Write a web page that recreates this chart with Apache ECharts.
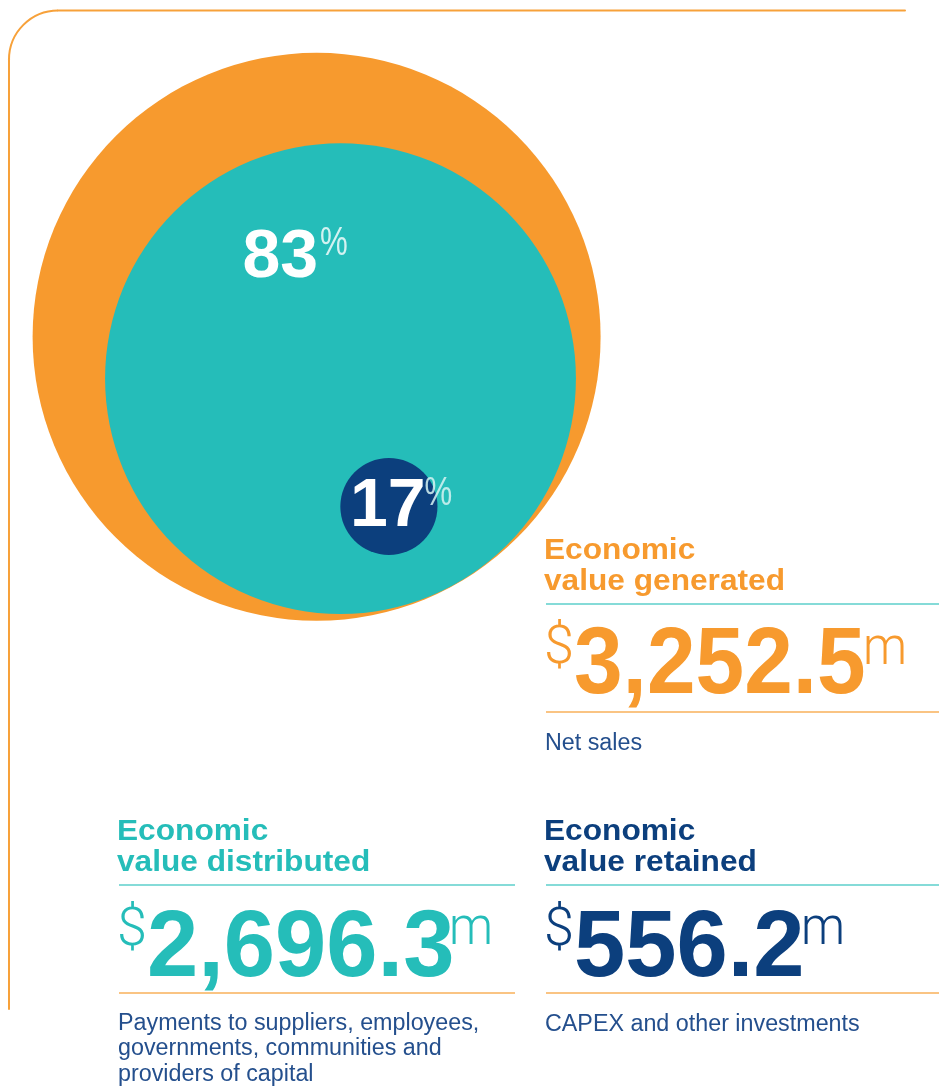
<!DOCTYPE html>
<html>
<head>
<meta charset="utf-8">
<title>Economic value</title>
<script src="https://cdn.jsdelivr.net/npm/echarts@6/dist/echarts.min.js"></script>
<style>
  html, body { margin: 0; padding: 0; background: #fff; }
  #chart { width: 939px; height: 1088px; }
</style>
</head>
<body>
<div id="chart"></div>
<script>
// data ($ million)
var categories = ['Economic value generated', 'Economic value distributed', 'Economic value retained'];
var values = [3252.5, 2696.3, 556.2];
var valueLabels = ['3,252.5', '2,696.3', '556.2'];
var sharePct = [null, 83, 17];
var headLines = [['Economic', 'value generated'], ['Economic', 'value distributed'], ['Economic', 'value retained']];
var descLines = [['Net sales'], ['Payments to suppliers, employees,', 'governments, communities and', 'providers of capital'], ['CAPEX and other investments']];

// layout / style
var colors = ['#f79a2e', '#25bdb9', '#0c3f7d'];
var descColor = '#244f8d';
var bubbleCenters = [[316.6, 336.8], [340.5, 378.6], [388.9, 506.5]];
var pxPerMillion = 568 / 3252.5; // bubble diameter scale

var BOLD = 'bold {s}px "Liberation Sans", Arial, sans-serif';
var REG = 'normal {s}px "Liberation Sans", Arial, sans-serif';
var LIGHT = '300 {s}px Roboto, "Liberation Sans", sans-serif';

function font(tpl, s) { return tpl.replace('{s}', s); }

// y is the vertical middle of the text line
function txt(x, y, str, tpl, size, color, sx) {
  return {
    type: 'text', x: x, y: y, scaleX: sx || 1, z: 100,
    style: {
      text: str, fill: color, font: font(tpl, size),
      align: 'left', verticalAlign: 'middle'
    }
  };
}
function hline(x1, x2, y, color) {
  return { type: 'line', z: 50, shape: { x1: x1, y1: y, x2: x2, y2: y }, style: { stroke: color, lineWidth: 1.3 } };
}

// text blocks
var blocks = [
  { x: 546, base: 561, numScale: 0.93, numSize: 94, lineEnd: 939, dollarY: 649, mX: 863, numBase: 700, mBase: 669, descBase: 752 },
  { x: 119, base: 842, numScale: 0.97, numSize: 95, lineEnd: 515, dollarY: 931, mX: 449, numBase: 983, mBase: 949, descBase: 1031.5 },
  { x: 546, base: 842, numScale: 0.97, numSize: 95, lineEnd: 939, dollarY: 931, mX: 801, numBase: 983, mBase: 949, descBase: 1033 }
];

var frameStyle = { stroke: '#f7a13a', lineWidth: 2, lineCap: 'round' };
var graphics = [
  { type: 'line', z: 10, shape: { x1: 905, y1: 10.5, x2: 58, y2: 10.5 }, style: frameStyle },
  { type: 'bezierCurve', z: 10, shape: { x1: 58, y1: 10.5, cpx1: 31, cpy1: 10.5, cpx2: 9, cpy2: 32.5, x2: 9, y2: 59.5 }, style: { stroke: '#f7a13a', lineWidth: 2, fill: null } },
  { type: 'line', z: 10, shape: { x1: 9, y1: 59.5, x2: 9, y2: 1009 }, style: frameStyle }
];

blocks.forEach(function (b, i) {
  var c = colors[i];
  graphics.push(txt(b.x - 2, b.base - 10.4, headLines[i][0], BOLD, 30, c, 1.055));
  graphics.push(txt(b.x - 2, b.base + 31 - 10.4, headLines[i][1], BOLD, 30, c, 1.055));
  graphics.push(hline(b.x, b.lineEnd, b.base + 43, '#5ccfcb'));
  graphics.push(txt(b.x - 2, b.dollarY, '$', LIGHT, 54, c));
  graphics.push(txt(b.x + 28, b.numBase - 0.3465 * b.numSize, valueLabels[i], BOLD, b.numSize, c, b.numScale));
  graphics.push(txt(b.mX, b.mBase - 18.5, 'm', LIGHT, 54, c, 0.92));
  graphics.push(hline(b.x, b.lineEnd, b.base + 151, '#f9b05a'));
  descLines[i].forEach(function (line, j) {
    graphics.push(txt(b.x - 1, b.descBase - 8 + j * 25.5, line, REG, 23.3, descColor));
  });
});

// percentage labels inside bubbles
graphics.push(txt(242.5, 257.8, String(sharePct[1]), BOLD, 68, '#ffffff'));
graphics.push(txt(320, 244, '%', REG, 40, 'rgba(255,255,255,0.8)', 0.78));
graphics.push(txt(350, 507.4, String(sharePct[2]), BOLD, 68, '#ffffff'));
graphics.push(txt(424.5, 494.4, '%', REG, 40, 'rgba(215,243,242,0.85)', 0.78));

var series = values.map(function (v, i) {
  return {
    type: 'scatter',
    name: categories[i],
    z: 2 + i,
    silent: true,
    symbol: 'circle',
    symbolSize: function (d) { return d[2] * pxPerMillion; },
    itemStyle: { color: colors[i], opacity: 1 },
    data: [[bubbleCenters[i][0], bubbleCenters[i][1], v]]
  };
});

var chart = echarts.init(document.getElementById('chart'));
chart.setOption({
  animation: false,
  grid: { left: 0, right: 0, top: 0, bottom: 0 },
  xAxis: { type: 'value', min: 0, max: 939, show: false },
  yAxis: { type: 'value', min: 0, max: 1088, inverse: true, show: false },
  series: series,
  graphic: graphics
});
</script>
</body>
</html>
